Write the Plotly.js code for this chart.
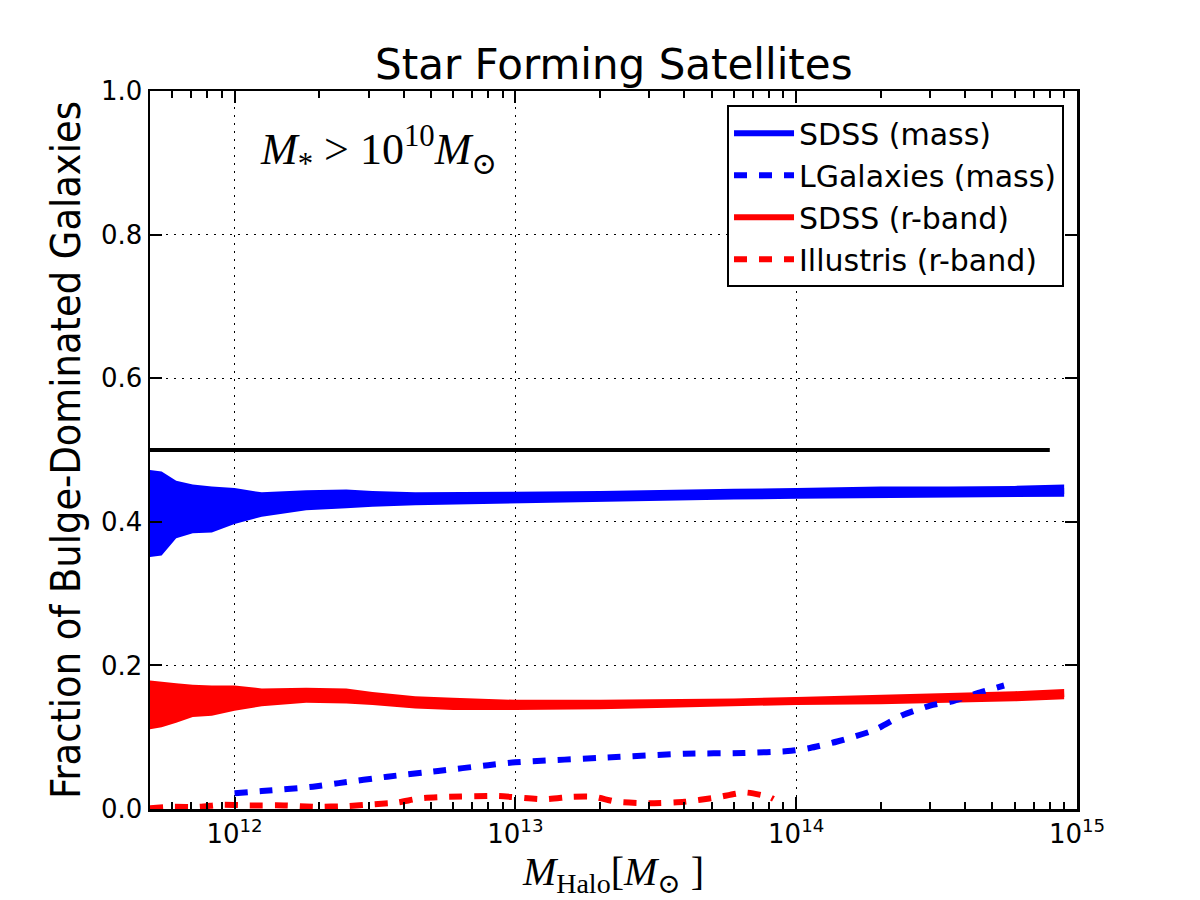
<!DOCTYPE html>
<html>
<head>
<meta charset="utf-8">
<script src="https://cdn.plot.ly/plotly-3.0.1.min.js"></script>
<style>
  html, body { margin: 0; padding: 0; background: #ffffff; }
  #chart { width: 1200px; height: 900px; }
</style>
</head>
<body>
<div id="chart"></div>
<script>
// Halo mass grid shared by the two SDSS bands (solar masses)
const haloMass = [5.0e11, 5.5e11, 6.2e11, 7.1e11, 8.3e11, 1.0e12, 1.25e12, 1.8e12, 2.5e12, 3.1e12, 4.4e12,
                  6.0e12, 1.0e13, 2.0e13, 3.5e13, 6.0e13, 1.0e14, 2.0e14, 3.5e14, 6.0e14, 9.0e14];

// SDSS, stellar-mass selected: band limits and central value
const sdssMassUpper = [0.472, 0.470, 0.457, 0.452, 0.449, 0.447, 0.441, 0.444, 0.445, 0.443, 0.441,
                       0.441, 0.442, 0.443, 0.444, 0.446, 0.447, 0.449, 0.449, 0.450, 0.452];
const sdssMassLower = [0.351, 0.353, 0.377, 0.384, 0.385, 0.397, 0.407, 0.416, 0.419, 0.421, 0.423,
                       0.424, 0.426, 0.428, 0.430, 0.431, 0.432, 0.433, 0.433, 0.434, 0.435];
const sdssMassMean  = [0.411, 0.411, 0.417, 0.418, 0.417, 0.422, 0.424, 0.430, 0.432, 0.432, 0.432,
                       0.433, 0.434, 0.436, 0.437, 0.439, 0.440, 0.441, 0.441, 0.442, 0.443];

// SDSS, r-band selected: band limits and central value
const sdssRUpper = [0.179, 0.177, 0.175, 0.173, 0.172, 0.172, 0.168, 0.169, 0.168, 0.163, 0.157,
                    0.155, 0.152, 0.152, 0.153, 0.154, 0.156, 0.159, 0.162, 0.164, 0.167];
const sdssRLower = [0.111, 0.114, 0.120, 0.128, 0.130, 0.137, 0.143, 0.148, 0.147, 0.145, 0.140,
                    0.138, 0.138, 0.139, 0.141, 0.143, 0.145, 0.146, 0.148, 0.150, 0.153];
const sdssRMean  = [0.145, 0.146, 0.148, 0.150, 0.151, 0.154, 0.155, 0.158, 0.157, 0.154, 0.149,
                    0.147, 0.145, 0.145, 0.147, 0.148, 0.150, 0.152, 0.155, 0.157, 0.160];

// L-Galaxies semi-analytic model (mass selected)
const lgalMass = [1.0e12, 1.25e12, 1.9e12, 2.35e12, 3.5e12, 5.3e12, 8.0e12, 1.0e13, 2.2e13, 4.0e13,
                  6.5e13, 9.6e13, 1.12e14, 1.4e14, 1.9e14, 2.4e14, 3.0e14, 3.6e14, 4.4e14, 5.5e14];
const lgalFrac = [0.022, 0.025, 0.031, 0.036, 0.045, 0.053, 0.061, 0.065, 0.072, 0.077,
                  0.078, 0.081, 0.085, 0.094, 0.110, 0.131, 0.144, 0.150, 0.161, 0.172];

// Illustris simulation (r-band selected)
const illMass = [5.0e11, 6.0e11, 7.5e11, 9.0e11, 1.13e12, 1.5e12, 1.95e12, 2.5e12, 3.1e12, 3.8e12, 4.6e12,
                 5.8e12, 8.7e12, 1.26e13, 1.6e13, 1.9e13, 2.3e13, 3.0e13, 4.0e13, 5.2e13, 6.6e13, 8.0e13, 8.3e13];
const illFrac = [0.001, 0.003, 0.003, 0.006, 0.005, 0.005, 0.003, 0.004, 0.0065, 0.009, 0.015,
                 0.017, 0.018, 0.0135, 0.017, 0.017, 0.010, 0.008, 0.010, 0.016, 0.023, 0.017, 0.014];

// Equal-fraction reference line
const referenceMass = [5.0e11, 8.0e14];
const referenceFrac = [0.5, 0.5];

// Axis ticks
const xTickVals = [1e12, 1e13, 1e14, 1e15];
const xTickText = ['10<sup>12</sup>', '10<sup>13</sup>', '10<sup>14</sup>', '10<sup>15</sup>'];
const yTickVals = [0.0, 0.2, 0.4, 0.6, 0.8, 1.0];

// minor log ticks: 2..9 times each decade
const xMinorVals = [];
for (let e = 11; e <= 14; e++) {
  for (let m = 2; m <= 9; m++) xMinorVals.push(m * Math.pow(10, e));
}

const BLUE = '#0000ff';
const RED = '#ff0000';
const SANS = 'DejaVu Sans, sans-serif';
const SERIF = 'Liberation Serif, DejaVu Serif, serif';

const traces = [
  // shaded bands
  { x: haloMass, y: sdssMassLower, mode: 'lines', line: { width: 0, color: BLUE }, showlegend: false, hoverinfo: 'skip' },
  { x: haloMass, y: sdssMassUpper, mode: 'lines', line: { width: 0, color: BLUE }, fill: 'tonexty',
    fillcolor: BLUE, showlegend: false, hoverinfo: 'skip' },
  { x: haloMass, y: sdssRLower, mode: 'lines', line: { width: 0, color: RED }, showlegend: false, hoverinfo: 'skip' },
  { x: haloMass, y: sdssRUpper, mode: 'lines', line: { width: 0, color: RED }, fill: 'tonexty',
    fillcolor: RED, showlegend: false, hoverinfo: 'skip' },
  // legend-carrying lines
  { x: haloMass, y: sdssMassMean, mode: 'lines', name: 'SDSS (mass)', line: { color: BLUE, width: 6 } },
  { x: lgalMass, y: lgalFrac, mode: 'lines', name: 'LGalaxies (mass)',
    line: { color: BLUE, width: 6, dash: '13px,12px', shape: 'spline', smoothing: 0.6 } },
  { x: haloMass, y: sdssRMean, mode: 'lines', name: 'SDSS (r-band)', line: { color: RED, width: 6 } },
  { x: illMass, y: illFrac, mode: 'lines', name: 'Illustris (r-band)',
    line: { color: RED, width: 6, dash: '13px,12px', shape: 'spline', smoothing: 0.6 } },
  // reference line at one half
  { x: referenceMass, y: referenceFrac, mode: 'lines', line: { color: '#000000', width: 4 },
    showlegend: false, hoverinfo: 'skip' }
];

const layout = {
  width: 1200,
  height: 900,
  paper_bgcolor: '#ffffff',
  plot_bgcolor: '#ffffff',
  margin: { l: 150, r: 123, t: 91, b: 91 },
  font: { family: SANS, color: '#000000' },
  showlegend: true,
  title: {
    text: 'Star Forming Satellites',
    font: { family: SANS, size: 42, color: '#000000' },
    x: 0.5115, xanchor: 'center',
    yref: 'container', y: 0.929, yanchor: 'middle'
  },
  xaxis: {
    type: 'log',
    range: [Math.log10(5e11), 15],
    tickmode: 'array',
    tickvals: xTickVals,
    ticktext: xTickText,
    tickfont: { family: SANS, size: 26, color: '#000000' },
    ticks: 'inside',
    ticklen: 12,
    tickwidth: 2,
    tickcolor: '#000000',
    minor: { tickmode: 'array', tickvals: xMinorVals, ticks: 'inside', ticklen: 7, tickwidth: 2,
             tickcolor: '#000000', showgrid: false },
    showline: true,
    linecolor: '#000000',
    linewidth: 2.5,
    mirror: 'allticks',
    showgrid: true,
    gridcolor: '#000000',
    gridwidth: 1.2,
    griddash: '2px,6px',
    zeroline: false,
    automargin: false,
    title: {
      text: '<i>M</i><sub>Halo</sub>[<i>M</i><sub>⊙</sub> ]',
      font: { family: SERIF, size: 40, color: '#000000' },
      standoff: 4
    }
  },
  yaxis: {
    range: [0, 1],
    tickmode: 'array',
    tickvals: yTickVals,
    tickformat: '.1f',
    tickfont: { family: SANS, size: 26, color: '#000000' },
    ticks: 'inside',
    ticklen: 12,
    tickwidth: 2,
    tickcolor: '#000000',
    showline: true,
    linecolor: '#000000',
    linewidth: 2.5,
    mirror: 'allticks',
    showgrid: true,
    gridcolor: '#000000',
    gridwidth: 1.2,
    griddash: '2px,6px',
    zeroline: false,
    automargin: false,
    title: {
      text: 'Fraction of Bulge-Dominated Galaxies',
      font: { family: 'DejaVu Sans Condensed, Liberation Sans Narrow, DejaVu Sans, sans-serif', size: 41, color: '#000000' },
      standoff: 8
    }
  },
  legend: {
    x: 0.986, xanchor: 'right',
    y: 0.98, yanchor: 'top',
    traceorder: 'normal',
    bgcolor: '#ffffff',
    bordercolor: '#000000',
    borderwidth: 2,
    font: { family: SANS, size: 30, color: '#000000' },
    itemwidth: 60
  },
  annotations: [
    {
      xref: 'paper', yref: 'paper',
      x: 0.246, y: 0.918, xanchor: 'center', yanchor: 'middle',
      showarrow: false,
      text: '<i>M</i><sub>*</sub> > 10<sup>10</sup><i>M</i><sub>⊙</sub>',
      font: { family: SERIF, size: 44, color: '#000000' }
    }
  ]
};

Plotly.newPlot('chart', traces, layout, { staticPlot: true, displayModeBar: false });
</script>
</body>
</html>
